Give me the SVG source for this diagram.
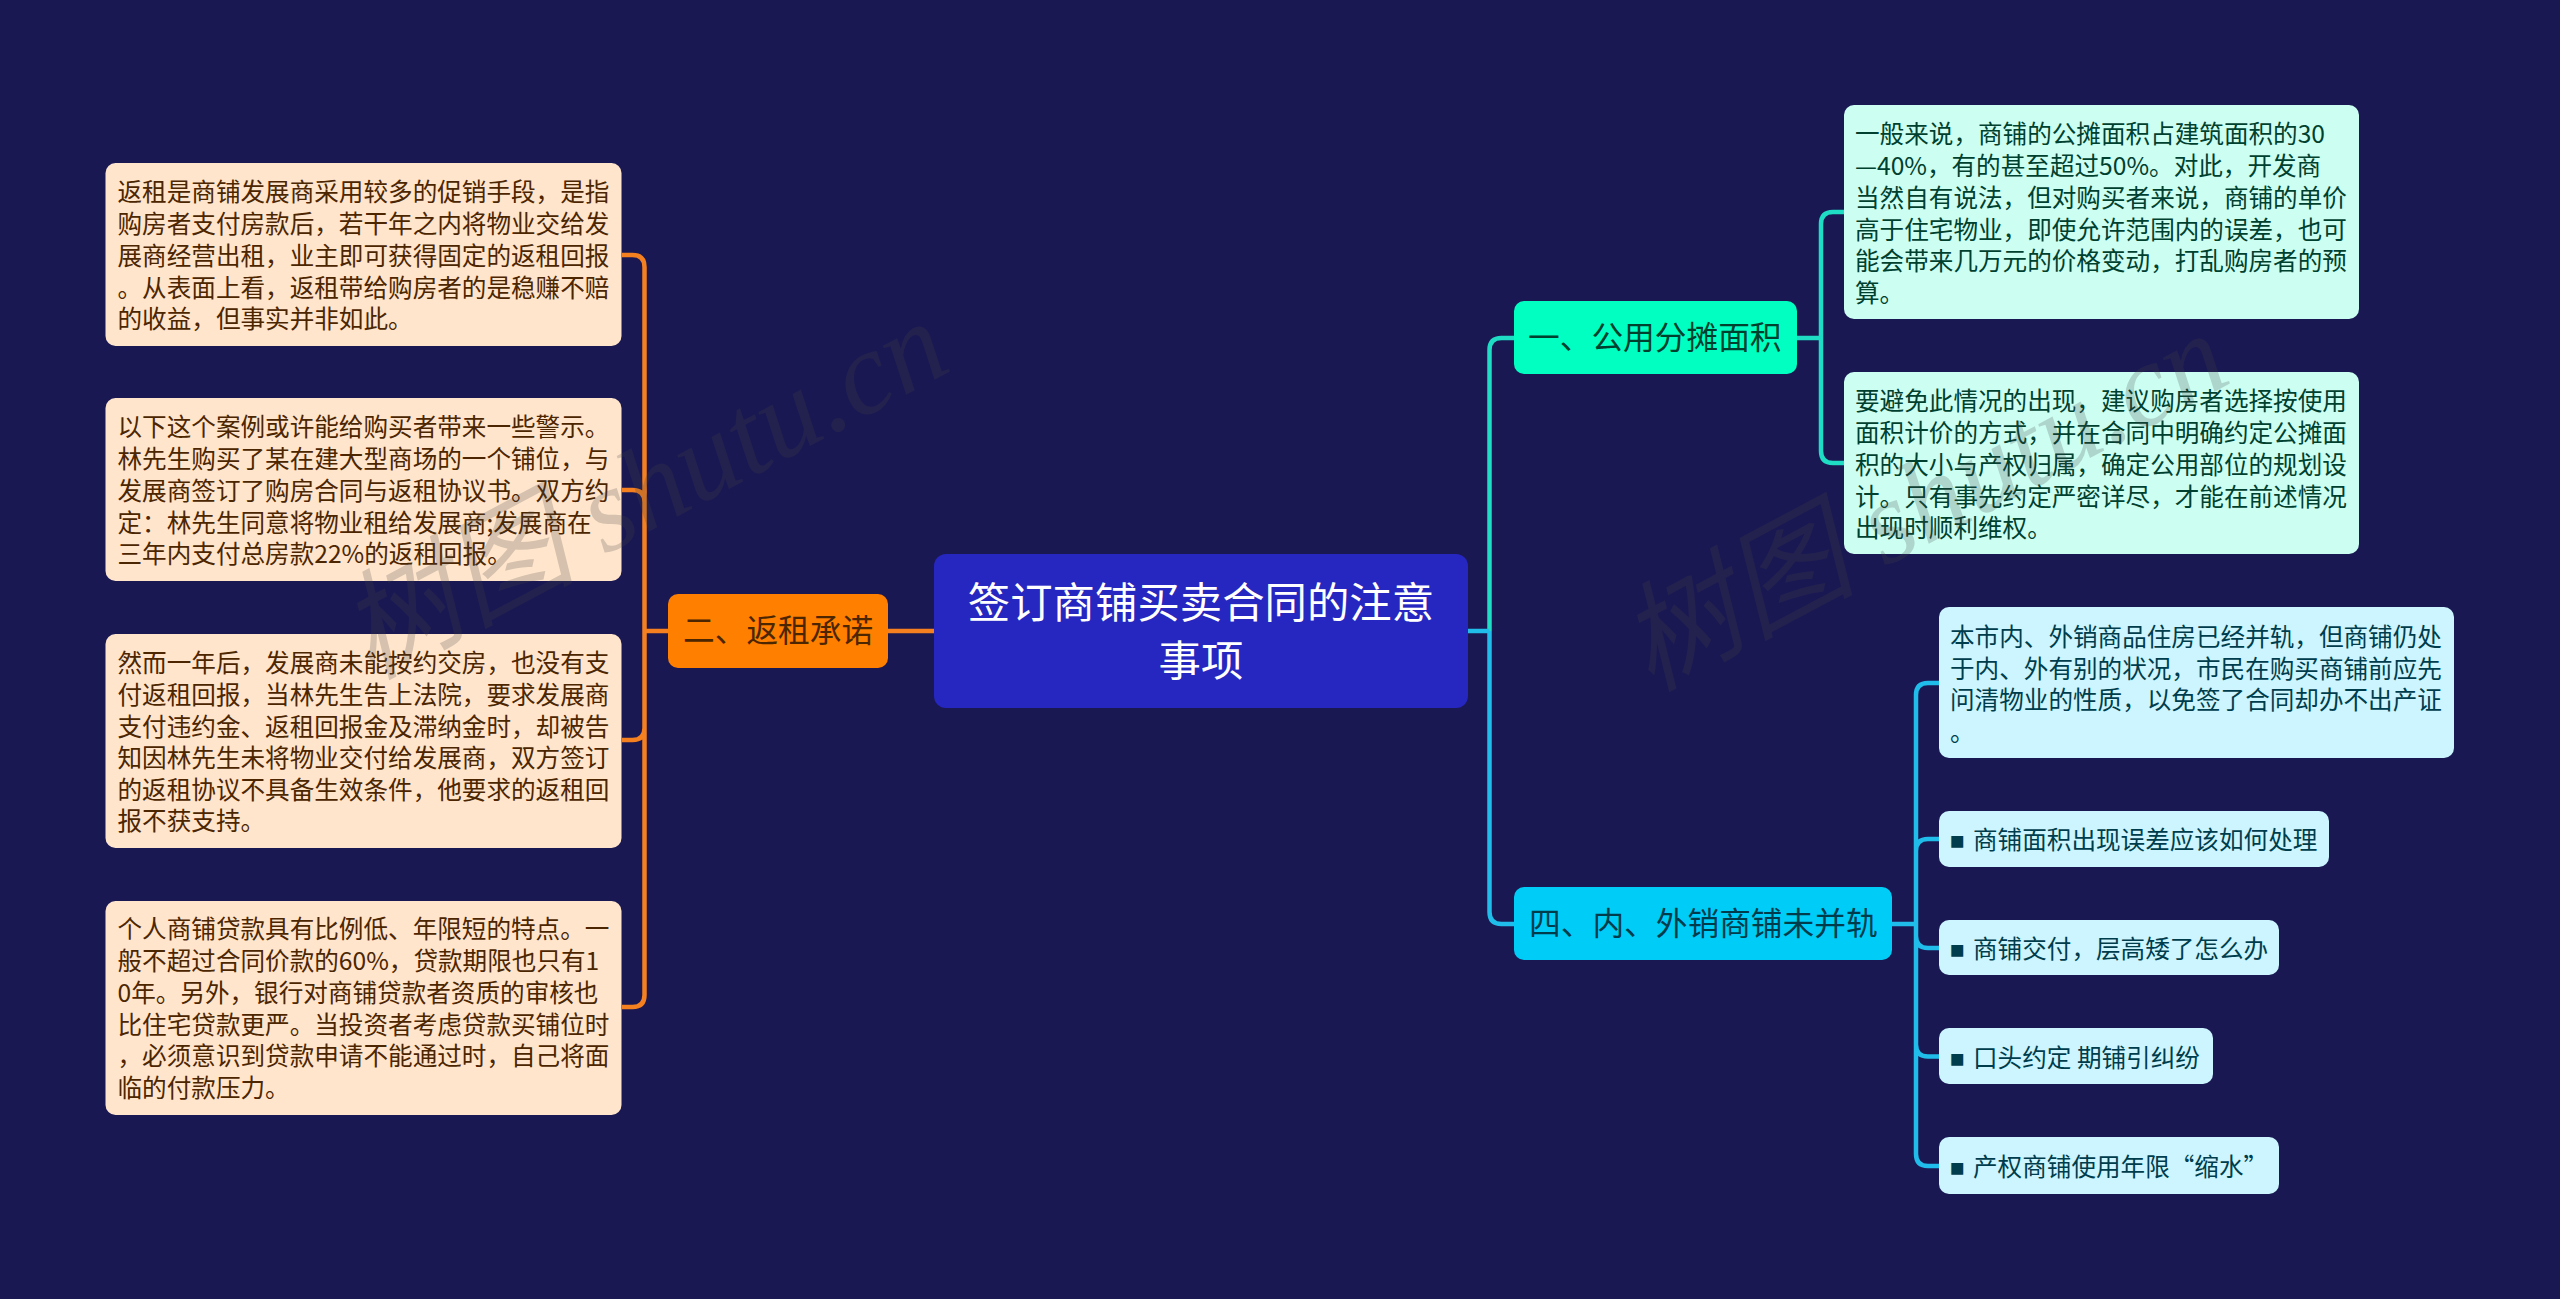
<svg xmlns="http://www.w3.org/2000/svg" width="2560" height="1299" viewBox="0 0 2560 1299">
<style>
text{font-family:"Noto Sans CJK SC","Liberation Sans",sans-serif}
.c{fill:none;stroke-width:4.500;stroke-linejoin:round}
.o{stroke:#f5801f}.t{stroke:#1fdcc4}.b{stroke:#20bdea}
.l{fill:#ffe5cc}.m{fill:#ccfff2}.n{fill:#ccf5ff}
.s{font-size:24.6px}.ls{fill:#4c2600}.ms{fill:#00402f}.ns{fill:#003d4c}
.h{font-size:31.7px}
.w{font-family:"Liberation Serif","Noto Sans CJK SC",serif;font-style:italic;font-size:118px;fill:#444;opacity:.22}
</style>
<rect id="background" width="2560" height="1299" fill="#1a1852"/>
<g id="connectors">
<path class="c o" d="M934 631H888M668 631H644.500M622 255H632.500Q644.500 255 644.500 267V995Q644.500 1007 632.500 1007H622M622 490H632.500Q644.500 490 644.500 502M622 740H632.500Q644.500 740 644.500 728"/>
<path class="c t" d="M1514 338H1501.500Q1489.500 338 1489.500 350V631"/>
<path class="c b" d="M1489.500 631V912Q1489.500 924 1501.500 924H1514"/>
<path class="c b" d="M1468 631H1489.500"/>
<path class="c t" d="M1797 338H1821M1844 212H1833Q1821 212 1821 224V451Q1821 463 1833 463H1844"/>
<path class="c b" d="M1892 924H1916M1939 683H1928Q1916 683 1916 695V1154Q1916 1166 1928 1166H1939M1939 839H1928Q1916 839 1916 851M1939 948H1928Q1916 948 1916 936M1939 1056.500H1928Q1916 1056.500 1916 1044.500"/>
</g>
<g id="root"><rect x="934" y="554" width="534" height="154" rx="12" fill="#2626c0"/>
<text x="1201" y="618" text-anchor="middle" font-size="42.4" fill="#fff"><tspan x="1201">签订商铺买卖合同的注意</tspan><tspan x="1201" y="676">事项</tspan></text></g>
<g id="node-2"><rect x="668" y="594" width="220" height="74" rx="10" fill="#ff7f00"/><text class="h" x="683" y="642" fill="#4c2600">二、返租承诺</text></g>
<g id="node-1"><rect x="1514" y="301" width="283" height="73" rx="10" fill="#00ffc0"/><text class="h" x="1528" y="349" fill="#00402f">一、公用分摊面积</text></g>
<g id="node-4"><rect x="1514" y="887" width="378" height="73" rx="10" fill="#00ccf8"/><text class="h" x="1529" y="935" fill="#003d4c">四、内、外销商铺未并轨</text></g>
<g id="left-1"><rect class="l" x="105.500" y="163" width="516" height="183" rx="10"/>
<text class="s ls"><tspan x="117.500" y="201">返租是商铺发展商采用较多的促销手段，是指</tspan><tspan x="117.500" y="233">购房者支付房款后，若干年之内将物业交给发</tspan><tspan x="117.500" y="265">展商经营出租，业主即可获得固定的返租回报</tspan><tspan x="117.500" y="297">。从表面上看，返租带给购房者的是稳赚不赔</tspan><tspan x="117.500" y="328">的收益，但事实并非如此。</tspan></text></g>
<g id="left-2"><rect class="l" x="105.500" y="398" width="516" height="183" rx="10"/>
<text class="s ls"><tspan x="117.500" y="436">以下这个案例或许能给购买者带来一些警示。</tspan><tspan x="117.500" y="468">林先生购买了某在建大型商场的一个铺位，与</tspan><tspan x="117.500" y="500">发展商签订了购房合同与返租协议书。双方约</tspan><tspan x="117.500" y="532">定：林先生同意将物业租给发展商;发展商在</tspan><tspan x="117.500" y="563">三年内支付总房款22%的返租回报。</tspan></text></g>
<g id="left-3"><rect class="l" x="105.500" y="634" width="516" height="214" rx="10"/>
<text class="s ls"><tspan x="117.500" y="672">然而一年后，发展商未能按约交房，也没有支</tspan><tspan x="117.500" y="704">付返租回报，当林先生告上法院，要求发展商</tspan><tspan x="117.500" y="736">支付违约金、返租回报金及滞纳金时，却被告</tspan><tspan x="117.500" y="767">知因林先生未将物业交付给发展商，双方签订</tspan><tspan x="117.500" y="799">的返租协议不具备生效条件，他要求的返租回</tspan><tspan x="117.500" y="830">报不获支持。</tspan></text></g>
<g id="left-4"><rect class="l" x="105.500" y="901" width="516" height="214" rx="10"/>
<text class="s ls"><tspan x="117.500" y="938">个人商铺贷款具有比例低、年限短的特点。一</tspan><tspan x="117.500" y="970">般不超过合同价款的60%，贷款期限也只有1</tspan><tspan x="117.500" y="1002">0年。另外，银行对商铺贷款者资质的审核也</tspan><tspan x="117.500" y="1034">比住宅贷款更严。当投资者考虑贷款买铺位时</tspan><tspan x="117.500" y="1065">，必须意识到贷款申请不能通过时，自己将面</tspan><tspan x="117.500" y="1097">临的付款压力。</tspan></text></g>
<g id="right-1a"><rect class="m" x="1844" y="105" width="515" height="214" rx="10"/>
<text class="s ms"><tspan x="1855" y="143">一般来说，商铺的公摊面积占建筑面积的30</tspan><tspan x="1855" y="175">—40%，有的甚至超过50%。对此，开发商</tspan><tspan x="1855" y="207">当然自有说法，但对购买者来说，商铺的单价</tspan><tspan x="1855" y="239">高于住宅物业，即使允许范围内的误差，也可</tspan><tspan x="1855" y="270">能会带来几万元的价格变动，打乱购房者的预</tspan><tspan x="1855" y="302">算。</tspan></text></g>
<g id="right-1b"><rect class="m" x="1844" y="372" width="515" height="182" rx="10"/>
<text class="s ms"><tspan x="1855" y="410">要避免此情况的出现，建议购房者选择按使用</tspan><tspan x="1855" y="442">面积计价的方式，并在合同中明确约定公摊面</tspan><tspan x="1855" y="474">积的大小与产权归属，确定公用部位的规划设</tspan><tspan x="1855" y="506">计。只有事先约定严密详尽，才能在前述情况</tspan><tspan x="1855" y="537">出现时顺利维权。</tspan></text></g>
<g id="right-4a"><rect class="n" x="1939" y="607" width="515" height="151" rx="10"/>
<text class="s ns"><tspan x="1950" y="646">本市内、外销商品住房已经并轨，但商铺仍处</tspan><tspan x="1950" y="678">于内、外有别的状况，市民在购买商铺前应先</tspan><tspan x="1950" y="709">问清物业的性质，以免签了合同却办不出产证</tspan><tspan x="1950" y="741">。</tspan></text></g>
<g id="right-4b"><rect class="n" x="1939" y="811" width="390" height="56" rx="10"/>
<text class="s ns"><tspan x="1950" y="849" font-family="Liberation Sans">■</tspan><tspan x="1973">商铺面积出现误差应该如何处理</tspan></text></g>
<g id="right-4c"><rect class="n" x="1939" y="920" width="340" height="55" rx="10"/>
<text class="s ns"><tspan x="1950" y="958" font-family="Liberation Sans">■</tspan><tspan x="1973">商铺交付，层高矮了怎么办</tspan></text></g>
<g id="right-4d"><rect class="n" x="1939" y="1028" width="274" height="56" rx="10"/>
<text class="s ns"><tspan x="1950" y="1067" font-family="Liberation Sans">■</tspan><tspan x="1973">口头约定 期铺引纠纷</tspan></text></g>
<g id="right-4e"><rect class="n" x="1939" y="1137" width="340" height="57" rx="10"/>
<text class="s ns"><tspan x="1950" y="1176" font-family="Liberation Sans">■</tspan><tspan x="1973">产权商铺使用年限“缩水”</tspan></text></g>
<g id="watermark">
<text class="w" transform="translate(370 680) rotate(-28)">树图 shutu.cn</text>
<text class="w" transform="translate(1650 692) rotate(-28)">树图 shutu.cn</text>
</g>
</svg>
